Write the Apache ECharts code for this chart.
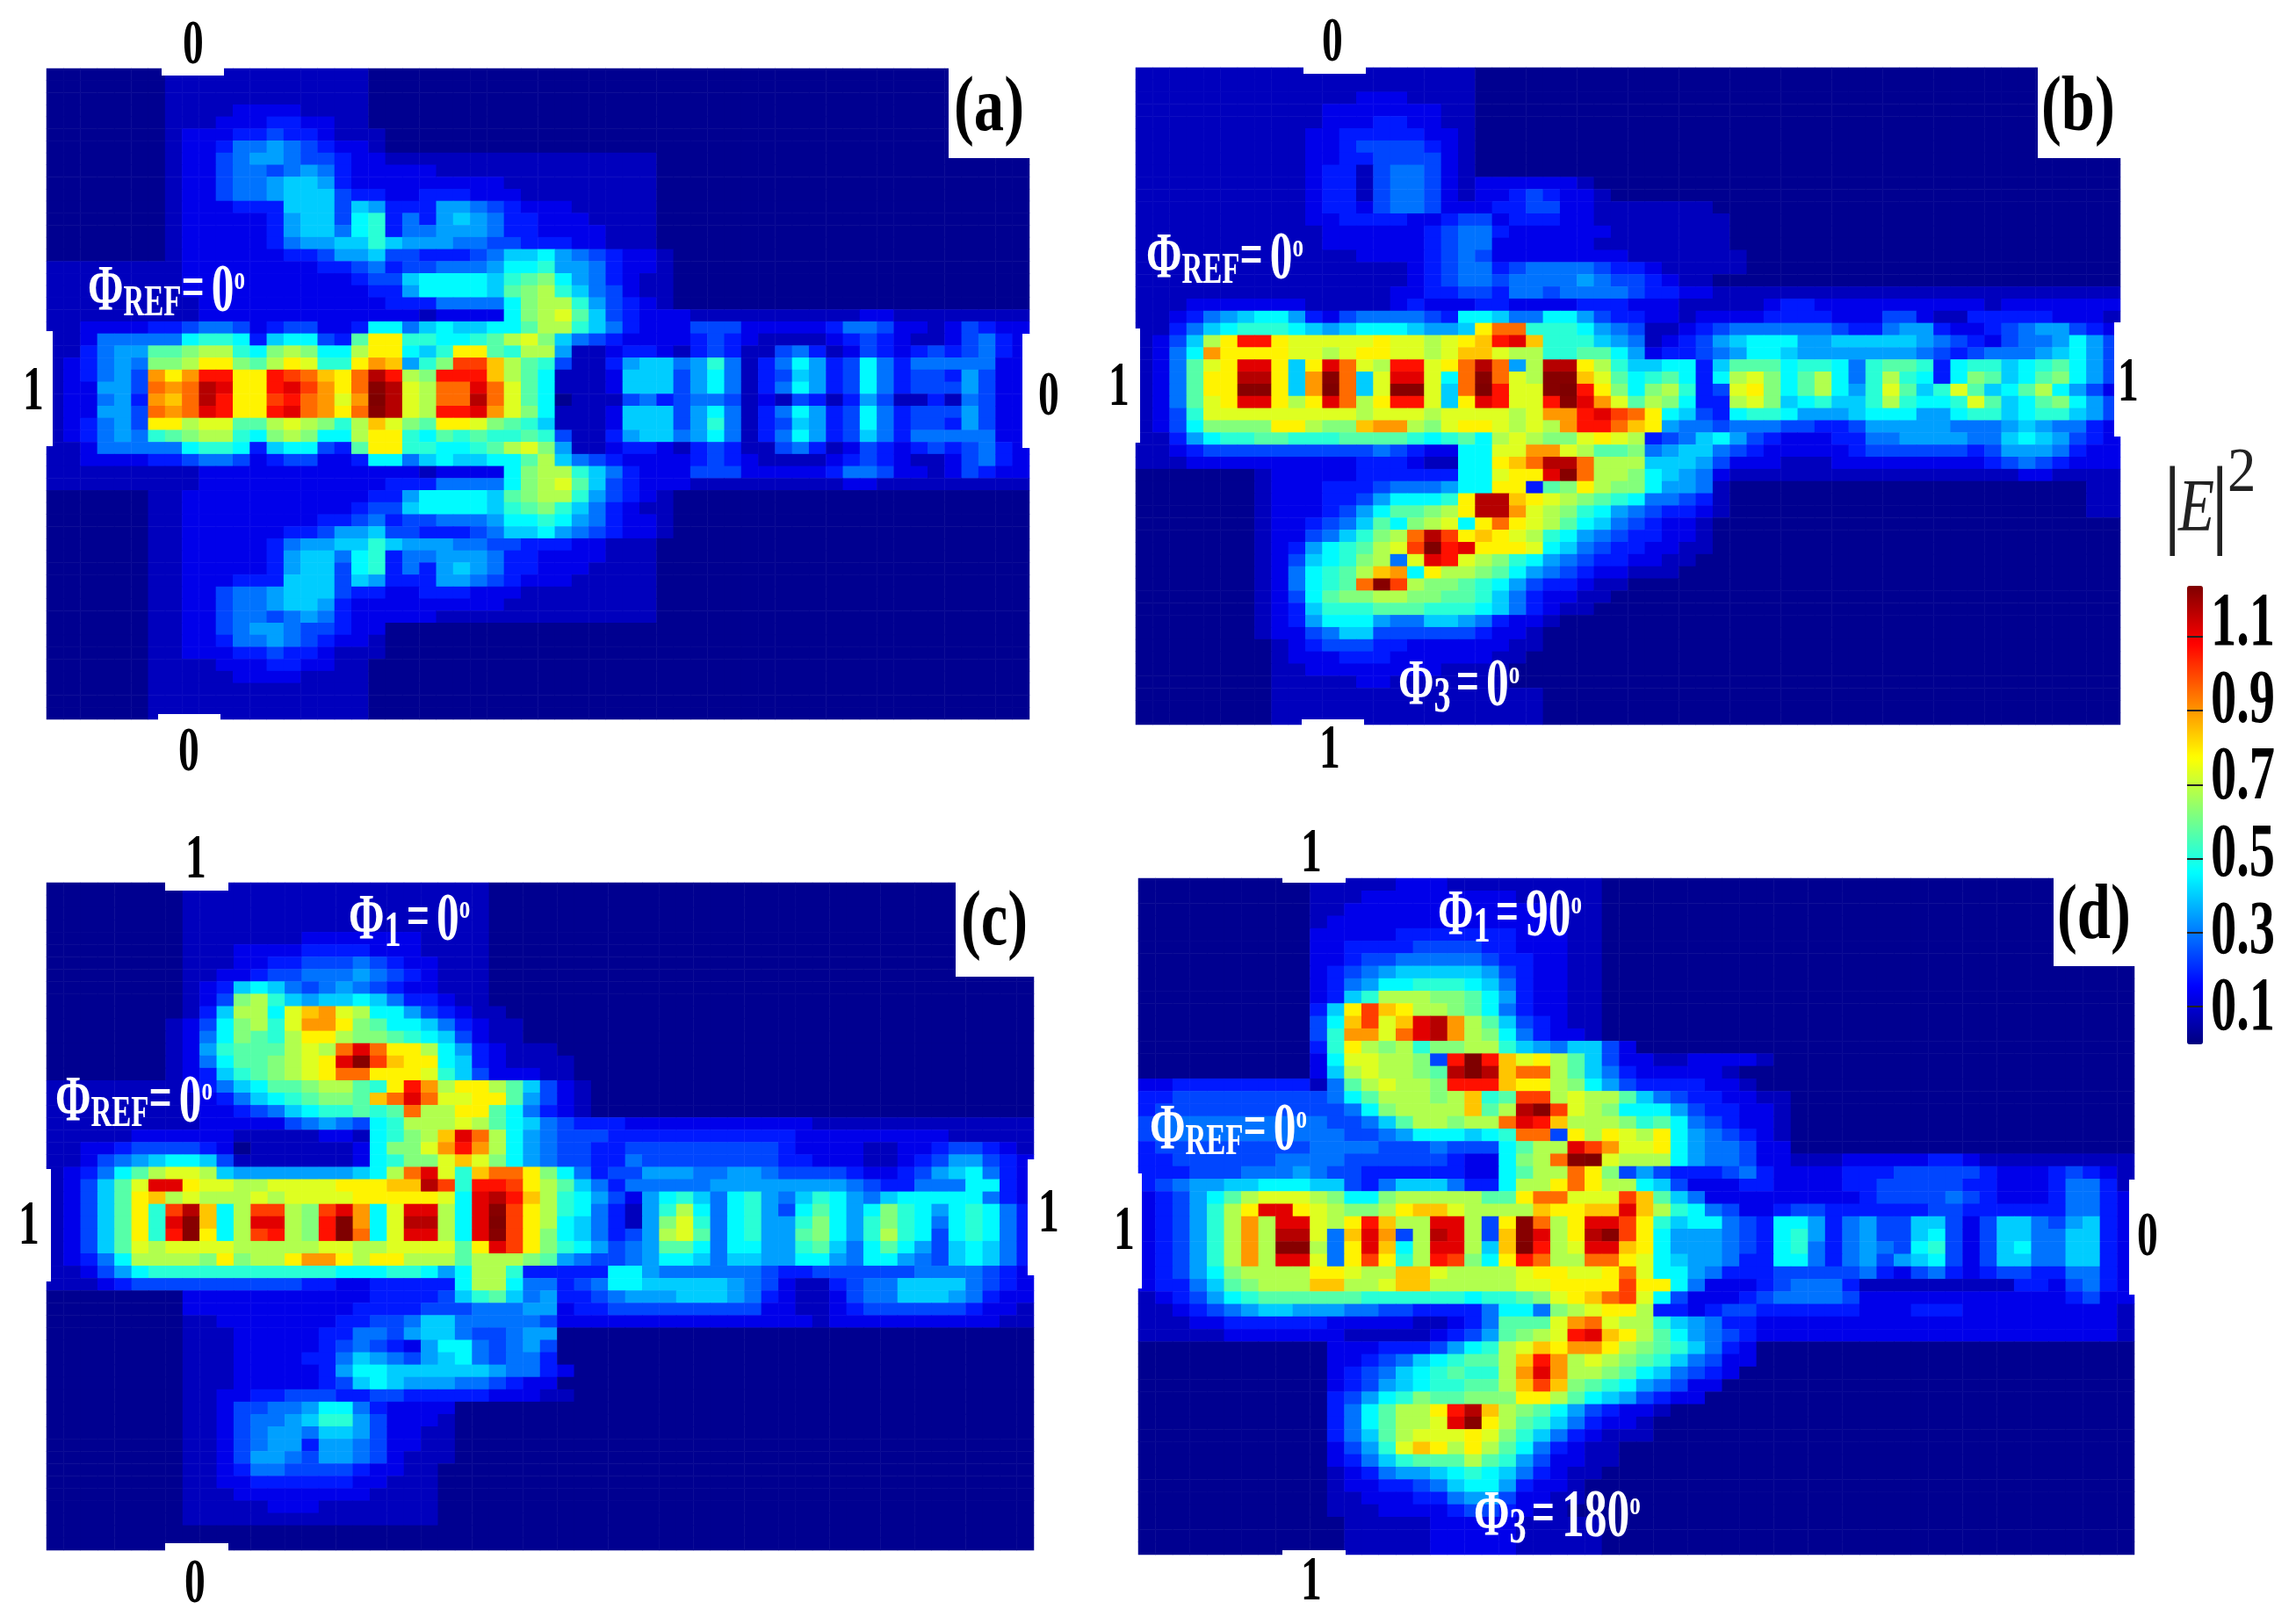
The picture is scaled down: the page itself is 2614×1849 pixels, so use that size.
<!DOCTYPE html>
<html lang="en">
<head>
    <meta charset="UTF-8">
    <title>Field intensity maps</title>
    <style>html,body{margin:0;background:#fff}</style>
</head>
<script src="https://cdn.jsdelivr.net/npm/echarts@6/dist/echarts.min.js"></script>
<body>
    <div id="main" style="width:2614px;height:1849px;"></div>
    <script type="text/javascript">
       // |E|^2. one character per cell, base 36, one step = 0.055
       var panelA = [
        "0000000111 1111111110",
        "0000000111 1111111110",
        "0000000111 1111111110",
        "0000000111 1222211110",
        "0000000111 2223322110",
        "0000000122 2334332111",
        "0000000122 3556543221",
        "0000000122 4566544322 1111111111 1111110",
        "0000000122 4554565322 2221111111 1111110",
        "0000000122 4556776322 2222222111 1111110",
        "0000000122 4556777433 2233322211 1111110",
        "0000000122 2333777476 3336654322 2111110",
        "0000000122 2223677489 3536765332 2211110",
        "0000000122 2223677589 3556665332 2221110",
        "0000000122 2223566779 7666554433 3221110",
        "0000000122 2222334667 4433345778 6543221",
        "1111111122 2222223345 3445556889 6653221",
        "1111111122 2222222234 47888879ab 8653211",
        "1111111122 2222222223 3688887abc 9754211",
        "1111111112 2222222222 33355558bc c964321",
        "1111111112 2222222222 22122228bc da74322 2 1 1 1 1 1 1 1 1 1 1 2 2 1 1 1 1 1 1 1 1 1",
        "1122223345 5423442238 85787788ac c9753 2 2 2 4 4 4 2 2 2 2 2 3 5 5 4 2 2 1 2 4 3 2 2",
        "1125555589 98378843ae e99889acdb 7 5 4 3 2 2 2 2 3 4 3 2 1 1 1 1 2 3 4 3 2 1 1 2 4 5 3 2",
        "113566aabc c98bcb88ce e879eea9cc 6 1 1 2 3 3 2 1 3 4 3 1 1 4 5 3 1 2 4 3 2 3 4 3 4 5 3 2",
        "123565bbce ebaced99eg f69biifca9 4 1 1 3 6 7 7 5 6 9 5 1 3 5 8 6 3 4 8 5 3 5 5 5 5 5 2 2",
        "123564gegj jeejihfehl jcbjjjfca8 1 1 1 2 7 7 7 4 6 8 5 1 3 4 7 6 3 4 8 5 3 4 4 3 6 4 2 2",
        "122664hghl keejkigehm ldchhkhda8 1 1 1 2 7 7 7 4 6 8 5 1 3 5 8 6 3 4 8 5 3 4 4 4 6 4 2 2",
        "122563gfhl jeeijhgdgn ldchhlhda8 0 1 1 1 4 5 3 4 5 5 4 1 2 1 4 3 1 3 6 4 1 1 3 1 5 4 2 2",
        "122664hghk jeejkhgehm ldcjjkgdb8 1 1 1 2 7 7 7 4 6 8 5 1 3 5 8 6 3 4 8 5 3 4 4 4 6 4 2 2",
        "123564eecd daacdcb9cf dbaeedba97 1 1 1 2 7 7 7 4 6 9 5 1 3 4 7 6 3 4 8 5 3 4 4 3 6 4 2 2",
        "1235659abc c98bcb88ce e98a9a99a9 4 1 1 3 6 7 7 5 6 8 5 1 3 5 8 6 3 4 7 5 3 5 5 5 5 5 2 2",
        "1125555589 98378843ae e99889acdb 6 1 1 2 3 3 2 1 3 4 3 1 1 4 5 3 1 2 4 3 2 3 4 3 4 5 3 2",
        "1122223345 5423442238 85787788ac 7 5 4 3 2 2 2 2 3 4 3 2 1 1 1 1 2 3 4 3 2 1 1 2 4 5 3 2",
        "1111111112 2222222222 22122228bc c 9 7 5 3 2 2 2 4 4 4 2 2 2 2 2 3 5 5 4 2 2 1 2 4 3 2 2",
        "1111111112 2222222222 33355558bc d a 7 4 3 2 2 2 1 1 1 1 1 1 1 1 1 2 2 1 1 1 1 1 1 1 1 1",
        "0000001122 2222222223 3688887abc c964321",
        "0000001122 2222222234 47888879ab 9753211",
        "0000001122 2222223345 3445556889 8653221",
        "0000001122 2222334667 4433345778 6543221",
        "0000001122 2223566779 7666554433 3221110",
        "0000001122 2223677589 3556665332 2221110",
        "0000001122 2223677489 3536765332 2211110",
        "0000001122 2333777476 3336654322 2111110",
        "0000001122 4556777433 2233322211 1111110",
        "0000001122 4556776322 2222222111 1111110",
        "0000001122 4554565322 2221111111 1111110",
        "0000001122 4566544322 0000000000 0000000",
        "0000001122 3556543221",
        "0000001122 2334332111",
        "0000001111 2223322110",
        "0000001111 1222211110",
        "0000001111 1111111110",
        "0000001111 1111111110",
        "0000001111 1111111110"
       ];

       var panelB = [
        "1111111111 1111111111",
        "1111111111 1111111111",
        "1111111111 1112221111",
        "1111111111 1222222211",
        "1111111111 1222332211",
        "1111111111 2233333221",
        "1111111111 2234444321",
        "1111111111 2233444421",
        "1111111111 2331455421",
        "1111111111 2331455421 2222221",
        "1111111111 2331455421 2234322100",
        "1111111111 2332455422 2334422111 1111",
        "1111111111 2233332234 4233322111 11111",
        "1111111111 1222222345 5322222211 11111",
        "1111111111 1222222345 5222222111 11111",
        "1111111111 1112222345 4222222221 111111",
        "1111111111 1111112345 5345555433 211111",
        "1111111111 1111112345 5455556544 3211",
        "1111111111 1111122334 4355455554 3322111111 1111111111 11111111",
        "1112222222 1111123222 3322223332 2211111233 2222222222 12222222",
        "1123567886 3245555438 8755886433 2212222333 3222442113 33332221",
        "1135789998 7678887667 ehh9998654 1123455555 5433566322 34566432",
        "1247cejjed ddddeddcde fjkf999765 1234678886 6777776543 24556864 2",
        "1258geeeed dcdeeddcdf fdcc99aa86 2334568876 6666665434 55567864 2",
        "125adekke7 ekhdcjjdeh lh6cllec97 7883 7aaa89 9859aa9 3 899 7 89a86 42",
        "125aeelle7 gmh7dkkd8h mhdcmmfda8 9a838cdb8a c859c98 3 8ba 7 8ab86 42",
        "125aeemme7 gnh7dmmd7h njddmnjeb8 bc934deb8a c869da7 9da 7 8ac86 42",
        "125adekkec ekhcejjd7e kjddjmkgda cb833cdb78 9779c98 8 9da 7 8ab86 42",
        "1249dddddd dddcdddcdd ddcdggjkih e87438 99 86 66788 8 66 89 9 7 8 9 9 7 6 4 2",
        "1248bbbbee cbbfggcbde edcdcgjjhf e6 5 5 4 5 5 5 4 4 3 3 4 6 6 6 6 6 5 5 5 6 7 6 5 5 3 2",
        "1136899aa9 99aaaa989a 8cdcbbdedc 3 4 5 7 8 6 4 3 2 2 2 3 3 5 5 6 6 6 6 5 5 7 8 7 6 4 3 2",
        "1123444444 4444543228 8ddggdcaab 5 6 7 7 5 4 3 2 2 2 2 2 3 4 4 4 4 4 4 3 4 6 6 6 5 3 2 2",
        "1112222222 2223332118 8efhllhccc 7 7 7 6 4 2 2 2 1 1 1 2 2 2 2 2 2 2 2 2 3 4 5 4 3 2 2 2",
        "0000000122 2223333338 8deekmhccb 8 7 6 5 2 1 1 1 1 1 1 1 1 1 1 1 1 1 1 1 1 1 2 2 1 1 1 1",
        "0000000122 2333455568 8ee3abecbb 8 6 6 5 1 0 0 0 0 0 0 0 0 0 0 0 0 0 0 0 0 0 0 0 0 0 1 1",
        "0000000122 233468889e llfedcba98 5 5 4 3 1 0 0 0 0 0 0 0 0 0 0 0 0 0 0 0 0 0 0 0 0 0 1 1",
        "0000000122 23468aabce llgdcb9865 4 3 3 2 1 0 0 0 0 0 0 0 0 0 0 0 0 0 0 0 0 0 0 0 0 0 1 1",
        "0000000122 3457a8bcd8 ehedca8754 3 2 2 1",
        "0000000122 4579bchlie fedc986543 3 2 2 1",
        "0000000123 689acdinjk eeed875433 2 2 1 1",
        "0000000124 789bc5dkjd cb98654332 2 1 1",
        "0000000125 89acfg8ecc ba86543221 1 1",
        "0000000125 89ahmicbba 9864332 1 1",
        "0000000124 8abbccbbaa 97532211",
        "0000000123 7999aaa999 8753211",
        "0000000123 6888655776 53221",
        "0000000122 4577444444 3221",
        "0000000012 3444332222 2211",
        "0000000012 2233322222 211",
        "0000000011 2222222211 11",
        "0000000011 1112211111 11",
        "0000000011 1111111111 1111",
        "0000000011 1111111111 1111",
        "0000000011 1111111111 1111"
       ];

       var panelC = [
        "0000000011 1111111111 111111",
        "0000000011 1111111111 111111",
        "0000000011 1111111111 111111",
        "0000000011 1111111111 111111",
        "0000000011 1111122222 221111",
        "0000000011 1222233332 221111",
        "0000000011 1223344454 322111",
        "0000000011 2234455565 432111",
        "0000000012 3787545654 322111",
        "0000000012 4bc9767787 533211",
        "0000000013 7cc8dfgdc8 8643211",
        "0000000124 8bc9dggeba 88753211",
        "0000000125 8ba9ceecbb a9874211",
        "0000000126 9aaacdchkh eec8632111",
        "0000000125 8aabcdekmi fee8732111 1",
        "0000000123 79abcdehhe eed9742221 1",
        "1111111123 578aabcca9 ejgceeca74 2 1",
        "1111111112 35789abbaf hkhddeea64 2 1",
        "1111111112 2345789 9a9 ahcceea853 2 1",
        "1111111112 2222456548 9cccdca875 4 3 3 3 2 2 2 2 2 2 2 2 2 2 2 1 1 1 1 1 1 1 1 1 1 1 1 1 1",
        "1111122222 2111112218 9bcfkhc865 4 4 4 3 3 3 3 3 3 3 3 3 3 3 2 2 2 2 2 2 2 2 2 1 1 1 1 1",
        "1122344443 2011111128 bbdgjgc865 4 4 3 3 4 4 4 4 4 4 4 4 4 3 2 2 2 2 1 1 2 2 3 4 4 3 2 1",
        "1124567887 4111111128 9bbdfdb865 4 4 3 3 5 4 4 4 4 4 4 4 4 3 3 2 2 2 1 1 2 3 4 6 6 4 3 2",
        "12358acddc 7666666678 chkd9fhheb 8 5 3 4 4 6 6 6 5 5 6 6 5 4 4 4 4 3 2 2 3 4 6 7 8 5 3 2",
        "1247adkked dccddddeee ffli9jjiec a 7 5 3 5 5 5 5 5 6 6 6 6 6 6 6 6 5 4 3 3 5 5 5 8 8 3 2",
        "1247aefcdc ccdcddddee eeed8kljfc 9 8 6 4 2 6 8 9 7 5 8 9 6 5 7 9 8 6 5 7 8 8 8 8 8 5 3 2",
        "1247ae9ilf 8ciicbikg8 dkkc8kmiec 9 8 5 3 1 6 9 c 8 5 8 9 6 4 8 a 8 6 8 b 9 8 6 8 9 8 5 3",
        "1247ae9kmf 8ckkcbjng8 dllc8kniec 8 7 5 3 1 6 b d 9 5 8 9 6 6 9 b 8 6 9 b 9 8 5 8 9 8 5 3",
        "1247ae9jme 8cijcbjnh8 dkkc8kmieb 8 7 5 3 4 6 c d a 5 8 9 6 6 a b 8 6 9 c 9 8 4 8 9 8 5 3",
        "1247adcddd dcccccddcc ddddaekieb 9 8 6 4 5 6 a a 8 5 8 8 6 6 9 a 7 5 8 a 8 6 4 7 8 7 5 3",
        "12358ccccb ebcceggece ecccacccba 6 5 4 4 5 6 8 8 7 5 7 7 6 6 8 8 6 5 8 8 6 5 4 7 8 7 5 3",
        "1124689999 9999999888 99868cc933 3 3 3 8 8 6 5 5 5 5 5 5 4 3 3 4 4 4 4 4 4 5 5 5 5 4 3 2",
        "1112344444 4444433223 33338cc855 3 4 5 8 8 7 7 7 7 7 6 5 4 2 1 1 3 4 5 5 7 7 7 7 5 4 3 2",
        "0000000022 2222222223 333479a756 3 3 4 5 6 6 6 7 7 7 6 5 3 2 1 1 2 4 5 5 7 7 7 6 5 3 2 2",
        "0000000022 2222222233 3344455566 2 3 3 4 4 4 4 4 4 4 4 4 2 2 1 1 2 3 4 4 4 4 4 4 3 2 2 1",
        "0000000011 2222222334 4577555554 2 2 2 2 2 2 2 2 2 2 2 2 2 2 2 1 2 2 2 2 2 2 2 2 2 2 1 1",
        "0000000011 1222223355 4677544566",
        "0000000011 1222223454 3268854564",
        "0000000011 1222233576 5467854553",
        "0000000011 1222223688 7777776553 2",
        "0000000011 1222223478 7666554322",
        "0000000011 2233444334 4333332221 1",
        "0000000011 2445568853 2222",
        "0000000011 2455679964 2221",
        "0000000011 2456657764 2211",
        "0000000011 2456636654 2211",
        "0000000011 2466546654 2111",
        "0000000011 2355444432 211",
        "0000000011 2233333322 111",
        "0000000011 1222222221 111",
        "0000000011 1112221111 111",
        "0000000011 1111111111 111",
        "0000000000 0000000000",
        "0000000000 0000000000"
       ];

       var panelD = [
        "0000000000 1111122211 1111111",
        "0000000000 1112222222 2211111",
        "0000000000 1122222222 2222111",
        "0000000000 1222222222 2222111",
        "0000000000 2222233333 3322211",
        "0000000000 2233334444 3322211",
        "0000000000 2234455555 4332211",
        "0000000000 2345677777 6432211",
        "0000000000 2356889998 7532211",
        "0000000000 2379cccbba 8632211",
        "0000000000 37eifeccba 85322110",
        "0000000000 48fidfklgc a7432110",
        "0000000000 49ggdhklgc b8532210",
        "0000000000 39ecbc9bbc c976577420",
        "0000000000 28ddccb4jn jfdeca7422 1 1 2 2 2 2 1",
        "0000000000 27cdccbaln lfhhca7532 2 2 2 2 1",
        "2233333333 15acdccbjj jfeecb8643 3 3 3 2 2 1",
        "3344444444 458acccbcf 9aiicdcca7 5 4 3 3 2 2 1 1",
        "3444444444 4458bccccf aclmidcb88 8 6 4 3 3 2 2 1",
        "4555555555 54457accbc chkjfcccb9 a 8 5 4 3 2 2 1",
        "4555555555 5544568887 89hh4ecedc e 8 6 5 4 3 2 1",
        "3444444444 5555444544 48acckigdd e 8 6 5 5 4 2 2",
        "3344444455 5544444432 28bchmndcc c 8 6 5 5 4 2 2 1 1 1 2 2 2 2 2 3 3 2 1 1 1 1 1 1 1 1 1",
        "3334445556 5443333332 28accheb46 4 3 3 3 4 5 3 2 2 2 2 3 3 3 4 4 4 4 4 3 2 2 2 3 4 3 2 1",
        "3456677888 7743577753 38ccehecc8 7 4 2 2 2 3 3 2 2 2 2 3 3 4 4 4 4 4 3 3 2 2 2 3 5 5 3 1",
        "23468acddd cb88bccccc aaehhdddif a 7 5 2 2 2 2 2 2 2 2 2 3 4 4 4 4 5 4 3 2 2 2 3 5 5 3 2",
        "23469cekke dcbbceffdc cccfeeffkf c 9 8 5 4 2 2 3 4 4 3 3 3 3 3 3 4 4 3 3 3 3 3 3 5 5 3 2",
        "23469cgckk dcejfcckkc 4emhcekkie 9 7 8 8 5 4 3 8 8 6 3 5 6 4 4 7 7 4 2 4 7 7 5 4 6 7 3 2",
        "23469cgcll d5fkg4clkc 4fmkcelmie 8 6 6 6 5 4 3 8 9 6 3 5 6 4 4 7 8 4 2 4 7 7 5 5 7 7 3 2",
        "23469cgcmm c5ekf8ckkc 7fnjcdkkfe 8 6 6 6 5 4 3 8 9 5 3 5 6 5 4 8 9 4 2 4 7 8 5 5 7 7 3 2",
        "23469cgckk d5eie9cjib 8ejhcchhed 8 7 6 6 5 3 3 8 8 5 3 5 6 4 6 7 8 4 2 4 7 7 5 5 7 7 3 2",
        "23468bcccc eedccffdcc ccdeeddehd 8 8 6 5 3 3 3 4 4 4 4 4 5 3 2 4 5 3 2 3 4 4 3 3 5 5 3 2",
        "23357abccc ffccdffccc ccddeeeeie e 8 5 2 2 2 3 4 5 5 5 3 1 1 1 1 1 1 1 1 1 3 3 2 4 5 3 2",
        "1234689aaa aaa9999998 99abdefhid 8 4 2 2 2 3 4 5 5 5 5 4 2 2 2 2 2 2 2 2 2 2 2 2 3 4 2 2",
        "1123456776 6655443333 5885bcdeec 3 3 2 3 4 4 3 3 3 3 3 3 2 2 2 3 3 3 2 2 2 2 2 2 2 2 2 1",
        "1112233333 3222221123 5aaadghdcc 9 7 6 5 3 3 2 2 2 2 2 2 2 2 2 2 2 2 2 2 2 2 2 2 2 2 2 1",
        "1111122222 2211111234 6abcdjkfec a 8 6 5 4 3 2 2 2 2 2 2 2 2 2 2 2 2 2 2 2 2 2 2 2 2 2 1",
        "0000000000 0222333468 9cdfeggecb a 9 7 5 3 2",
        "0000000000 022345789a acfjgcdcba 9 7 5 4 2 2",
        "0000000000 023457 89a9 9cgkgccba8 7 5 4 3 2",
        "0000000000 023467899a acfifba986 5 4 2 2",
        "0000000000 034689baab bbeeca8764 3 2 2",
        "0000000000 0358accejl fcba864322 1",
        "0000000000 0358accdkm eca9753221",
        "0000000000 0357acddde db97532111",
        "0000000000 02469dfece ca85321 1",
        "0000000000 023579aaac a964221 1",
        "0000000000 0123566789 8753211",
        "0000000000 0122334578 863221",
        "0000000000 0112223356 642211",
        "0000000000 0111222234 43211",
        "0000000000 0011111222 2211111",
        "0000000000 0011111222 2211111",
        "0000000000 0011111222 2211111"
       ];

       var colCount = 58;
       var rowCount = 54;
       var step = 0.055;
       var floorValue = 0.02;

       // colour bar
       var barTicks = [0.1, 0.3, 0.5, 0.7, 0.9, 1.1];
       var barLabels = ['0.1', '0.3', '0.5', '0.7', '0.9', '1.1'];
       var barMax = 1.24;
       var jet = ['#00007f', '#0000ff', '#007fff', '#00ffff', '#7fff7f', '#ffff00', '#ff7f00', '#ff0000', '#7f0000'];

       // plot frames on the page
       var frames = [
           {left: 53, top: 78, width: 1119, height: 741},
           {left: 1293, top: 77, width: 1121, height: 748},
           {left: 53, top: 1005, width: 1124, height: 760},
           {left: 1296, top: 1000, width: 1134, height: 770}
       ];
       var panels = [panelA, panelB, panelC, panelD];

       function toCells(rows) {
           var cells = [];
           rows.forEach(function (row, y) {
               var s = row.replace(/ /g, '');
               for (var x = 0; x < colCount; x++) {
                   var c = x < s.length ? s.charAt(x) : '0';
                   cells.push([x, y, floorValue + parseInt(c, 36) * step]);
               }
           });
           return cells;
       }

       var cols = [], rowsIdx = [];
       for (var i = 0; i < colCount; i++) cols.push(i);
       for (var j = 0; j < rowCount; j++) rowsIdx.push(j);

       var grids = [], xAxes = [], yAxes = [], series = [];
       frames.forEach(function (f, k) {
           grids.push({left: f.left, top: f.top, width: f.width, height: f.height});
           xAxes.push({type: 'category', gridIndex: k, data: cols, show: false});
           yAxes.push({type: 'category', gridIndex: k, data: rowsIdx, inverse: true, show: false});
           series.push({
               type: 'heatmap', xAxisIndex: k, yAxisIndex: k, data: toCells(panels[k]),
               progressive: 0, animation: false, emphasis: {disabled: true}
           });
       });

       // grid for the colour bar ticks
       grids.push({left: 2490, top: 666, width: 18, height: 522});
       xAxes.push({type: 'value', gridIndex: 4, show: false, min: 0, max: 1});
       yAxes.push({
           type: 'value', gridIndex: 4, min: 0, max: barMax, z: 10, position: 'left',
           splitLine: {show: false}, axisLine: {show: false}, axisLabel: {show: false},
           axisTick: {show: true, inside: true, length: 18, customValues: barTicks, lineStyle: {color: '#222', width: 2}}
       });

       var myChart = echarts.init(document.getElementById('main'));
       myChart.setOption({
           animation: false,
           backgroundColor: '#fff',
           grid: grids, xAxis: xAxes, yAxis: yAxes, series: series,
           visualMap: {
               type: 'continuous', min: 0, max: barMax, seriesIndex: [0, 1, 2, 3],
               left: 2490, top: 667, padding: 0, itemWidth: 18, itemHeight: 522, calculable: false,
               inRange: {color: jet}, text: null, hoverLink: false
           }
       });

       // text + white port notches
       var ctx = document.createElement('canvas').getContext('2d');
       var squeeze = 0.66;
       function txt(x, y, s, size, fill, opt) {
           opt = opt || {};
           var sx = opt.sx || squeeze;
           return {
               type: 'text', x: x, y: y, scaleX: sx, z: 100, silent: true,
               style: {
                   text: s, x: 0, y: 0, fill: fill, textAlign: 'left', textVerticalAlign: 'middle',
                   align: 'left', verticalAlign: 'middle',
                   font: (opt.italic ? 'italic ' : '') + (opt.normal ? '' : 'bold ') + size + 'px "Liberation Serif"'
               }
           };
       }
       function textWidth(s, size) {
           ctx.font = 'bold ' + size + 'px "Liberation Serif"';
           return ctx.measureText(s).width * squeeze;
       }
       // Φ + subscript + = + value + degree sign
       function phase(x, y, sub, val) {
           var out = [], px = x;
           out.push(txt(px, y, 'Φ', 74, '#fff')); px += textWidth('Φ', 74);
           var subSize = sub === 'REF' ? 50 : 58;
           out.push(txt(px, y + 12, sub, subSize, '#fff')); px += textWidth(sub, subSize) + (sub === 'REF' ? 0 : 6);
           out.push(txt(px, y - 2, '=', 70, '#fff')); px += textWidth('=', 70) + 8;
           out.push(txt(px, y, val, 78, '#fff')); px += textWidth(val, 78);
           out.push(txt(px, y - 15, 'o', 38, '#fff'));
           return out;
       }
       function rect(x0, y0, x1, y1) {
           return {type: 'rect', z: 90, silent: true, shape: {x: x0, y: y0, width: x1 - x0, height: y1 - y0}, style: {fill: '#fff'}};
       }

       var g = [];
       // corner boxes and port notches
       [[2320, 75, 2416, 180], [1080, 76, 1175, 180], [1088, 1003, 1180, 1112], [2338, 998, 2434, 1100],
        [184, 76, 255, 86], [180, 813, 251, 821], [51, 377, 60, 508], [1164, 380, 1174, 510],
        [1484, 75, 1555, 84], [1482, 819, 1553, 827], [1291, 374, 1298, 504], [2407, 367, 2416, 497],
        [188, 1003, 260, 1014], [188, 1757, 260, 1767], [51, 1331, 58, 1459], [1170, 1320, 1179, 1452],
        [1460, 998, 1532, 1005], [1460, 1765, 1532, 1772], [1294, 1336, 1300, 1467], [2424, 1343, 2432, 1474]
       ].forEach(function (r) { g.push(rect(r[0], r[1], r[2], r[3])); });

       // panel tags
       [['(a)', 1086, 125], ['(b)', 2324, 125], ['(c)', 1094, 1052], ['(d)', 2342, 1045]].forEach(function (t) {
           g.push(txt(t[1], t[2], t[0], 88, '#000', {sx: 0.78}));
       });

       // port states
       [['0', 220, 53], ['0', 215, 858], ['1', 38, 447], ['0', 1194, 453],
        ['0', 1517, 50], ['1', 1514, 855], ['1', 1274, 442], ['1', 2423, 437],
        ['1', 223, 980], ['0', 222, 1805], ['1', 33, 1397], ['1', 1194, 1383],
        ['1', 1493, 973], ['1', 1493, 1802], ['1', 1280, 1403], ['0', 2445, 1410]
       ].forEach(function (t) {
           g.push(txt(t[1] - 12, t[2], t[0], 72, '#000'));
       });

       g = g.concat(
           phase(100, 334, 'REF', '0'),
           phase(1305, 297, 'REF', '0'),
           phase(1592, 783, '3', '0'),
           phase(397, 1050, '1', '0'),
           phase(63, 1257, 'REF', '0'),
           phase(1637, 1045, '1', '90'),
           phase(1309, 1289, 'REF', '0'),
           phase(1678, 1729, '3', '180')
       );

       // |E|^2 title of the bar
       g.push(txt(2462, 580, '|', 112, '#222', {normal: true, sx: 1}));
       g.push(txt(2480, 582, 'E', 84, '#222', {normal: true, italic: true, sx: 0.8}));
       g.push(txt(2516, 580, '|', 112, '#222', {normal: true, sx: 1}));
       g.push(txt(2536, 540, '2', 72, '#222', {normal: true, sx: 0.9}));

       // bar labels follow the axis
       barTicks.forEach(function (v, k) {
           var p = myChart.convertToPixel({gridIndex: 4}, [0, v]);
           g.push(txt(2517, p[1] + 4 - 17 * k / 5, barLabels[k], 86, '#000', {sx: 0.68}));
       });

       myChart.setOption({graphic: {elements: g}});
    </script>
</body>
</html>
